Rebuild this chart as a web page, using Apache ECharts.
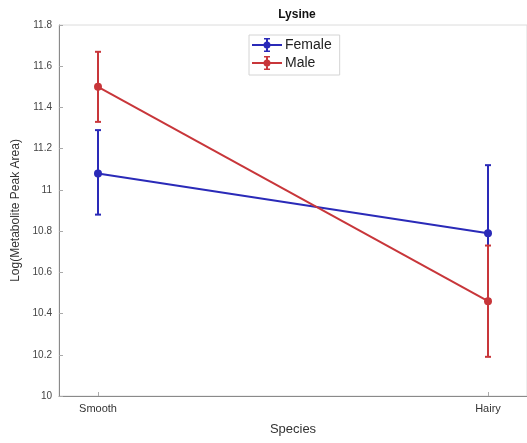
<!DOCTYPE html>
<html>
<head>
<meta charset="utf-8">
<script src="https://cdn.jsdelivr.net/npm/echarts@6/dist/echarts.min.js"></script>
<style>html,body{margin:0;padding:0;background:#fff;}#c{width:527px;height:443px;}</style>
</head>
<body>
<div id="c"></div>
<script>
var categories = ['Smooth', 'Hairy'];
var seriesNames = ['Female', 'Male'];
var femaleMean = [11.08, 10.79];
var femaleLow = [10.88, 10.47];
var femaleHigh = [11.29, 11.12];
var maleMean = [11.50, 10.46];
var maleLow = [11.33, 10.19];
var maleHigh = [11.67, 10.73];
var yTicks = [10, 10.2, 10.4, 10.6, 10.8, 11, 11.2, 11.4, 11.6, 11.8];

var BLUE = '#2a2ab8';
var RED = '#c8363a';
var FONT = 'Liberation Sans, Arial, sans-serif';

var legendIcon = 'path://M0 6 L30 6 L30 8 L0 8 Z M14 0 L16 0 L16 14 L14 14 Z M12 0 L18 0 L18 1.5 L12 1.5 Z M12 12.5 L18 12.5 L18 14 L12 14 Z M18.5 7 A3.5 3.5 0 1 1 11.5 7 A3.5 3.5 0 1 1 18.5 7 Z';

function pts(arr) { return arr.map(function (v, i) { return [i + 1, v]; }); }
function errData(low, high) { return low.map(function (v, i) { return [i + 1, v, high[i]]; }); }

function errRender(color) {
  return function (params, api) {
    var x = api.value(0);
    var lo = api.coord([x, api.value(1)]);
    var hi = api.coord([x, api.value(2)]);
    var half = 3;
    var st = { stroke: color, lineWidth: 2 };
    return {
      type: 'group',
      children: [
        { type: 'line', shape: { x1: lo[0], y1: lo[1], x2: hi[0], y2: hi[1] }, style: st },
        { type: 'line', shape: { x1: lo[0] - half, y1: lo[1], x2: lo[0] + half, y2: lo[1] }, style: st },
        { type: 'line', shape: { x1: hi[0] - half, y1: hi[1], x2: hi[0] + half, y2: hi[1] }, style: st }
      ]
    };
  };
}

var chart = echarts.init(document.getElementById('c'), null, { renderer: 'canvas' });
chart.setOption({
  animation: false,
  backgroundColor: '#ffffff',
  title: {
    text: 'Lysine',
    left: 292, top: 4, textAlign: 'center',
    textStyle: { fontFamily: FONT, fontSize: 12, fontWeight: 'bold', color: '#111' }
  },
  legend: {
    data: seriesNames.map(function (n) { return { name: n, icon: legendIcon }; }),
    left: 249, top: 35,
    orient: 'vertical',
    itemWidth: 30, itemHeight: 14,
    itemGap: 4,
    padding: [3, 8, 5, 3],
    backgroundColor: '#fff',
    borderColor: '#d4d4d4', borderWidth: 1, borderRadius: 0,
    textStyle: { fontFamily: FONT, fontSize: 14, color: '#222', padding: [0, 0, 0, -2] }
  },
  grid: { left: 59, top: 25, width: 472, height: 371, show: true, borderColor: '#dcdcdc', borderWidth: 1 },
  xAxis: {
    type: 'value', min: 0.9, max: 2.1,
    name: 'Species', nameLocation: 'middle', nameGap: 27,
    nameTextStyle: { fontFamily: FONT, fontSize: 13, color: '#333' },
    axisLine: { show: true, lineStyle: { color: '#8a8a8a', width: 1 } },
    axisTick: { show: true, inside: true, length: 4, lineStyle: { color: '#aaa' }, customValues: [1, 2] },
    axisLabel: {
      customValues: [1, 2], margin: 7,
      fontFamily: FONT, fontSize: 11, color: '#333',
      formatter: function (v) { return categories[Math.round(v) - 1] || ''; }
    },
    splitLine: { show: false }
  },
  yAxis: {
    type: 'value', min: 10, max: 11.8, interval: 0.2,
    name: 'Log(Metabolite Peak Area)', nameLocation: 'middle', nameGap: 27,
    nameTextStyle: { fontFamily: FONT, fontSize: 12, color: '#333' },
    axisLine: { show: true, lineStyle: { color: '#8a8a8a', width: 1 } },
    axisTick: { show: true, inside: true, length: 4, lineStyle: { color: '#aaa' } },
    axisLabel: {
      margin: 7, fontFamily: FONT, fontSize: 10, color: '#444',
      formatter: function (v) {
        var r = Math.round(v * 10) / 10;
        for (var i = 0; i < yTicks.length; i++) if (Math.abs(yTicks[i] - r) < 1e-6) return String(yTicks[i]);
        return '';
      }
    },
    splitLine: { show: false }
  },
  series: [
    {
      name: 'Female', type: 'custom', renderItem: errRender(BLUE),
      data: errData(femaleLow, femaleHigh), z: 2, silent: true,
      itemStyle: { color: BLUE }
    },
    {
      name: 'Female', type: 'line', data: pts(femaleMean), z: 3,
      symbol: 'circle', symbolSize: 8,
      lineStyle: { color: BLUE, width: 2 }, itemStyle: { color: BLUE }
    },
    {
      name: 'Male', type: 'custom', renderItem: errRender(RED),
      data: errData(maleLow, maleHigh), z: 4, silent: true,
      itemStyle: { color: RED }
    },
    {
      name: 'Male', type: 'line', data: pts(maleMean), z: 5,
      symbol: 'circle', symbolSize: 8,
      lineStyle: { color: RED, width: 2 }, itemStyle: { color: RED }
    }
  ]
});
</script>
</body>
</html>
